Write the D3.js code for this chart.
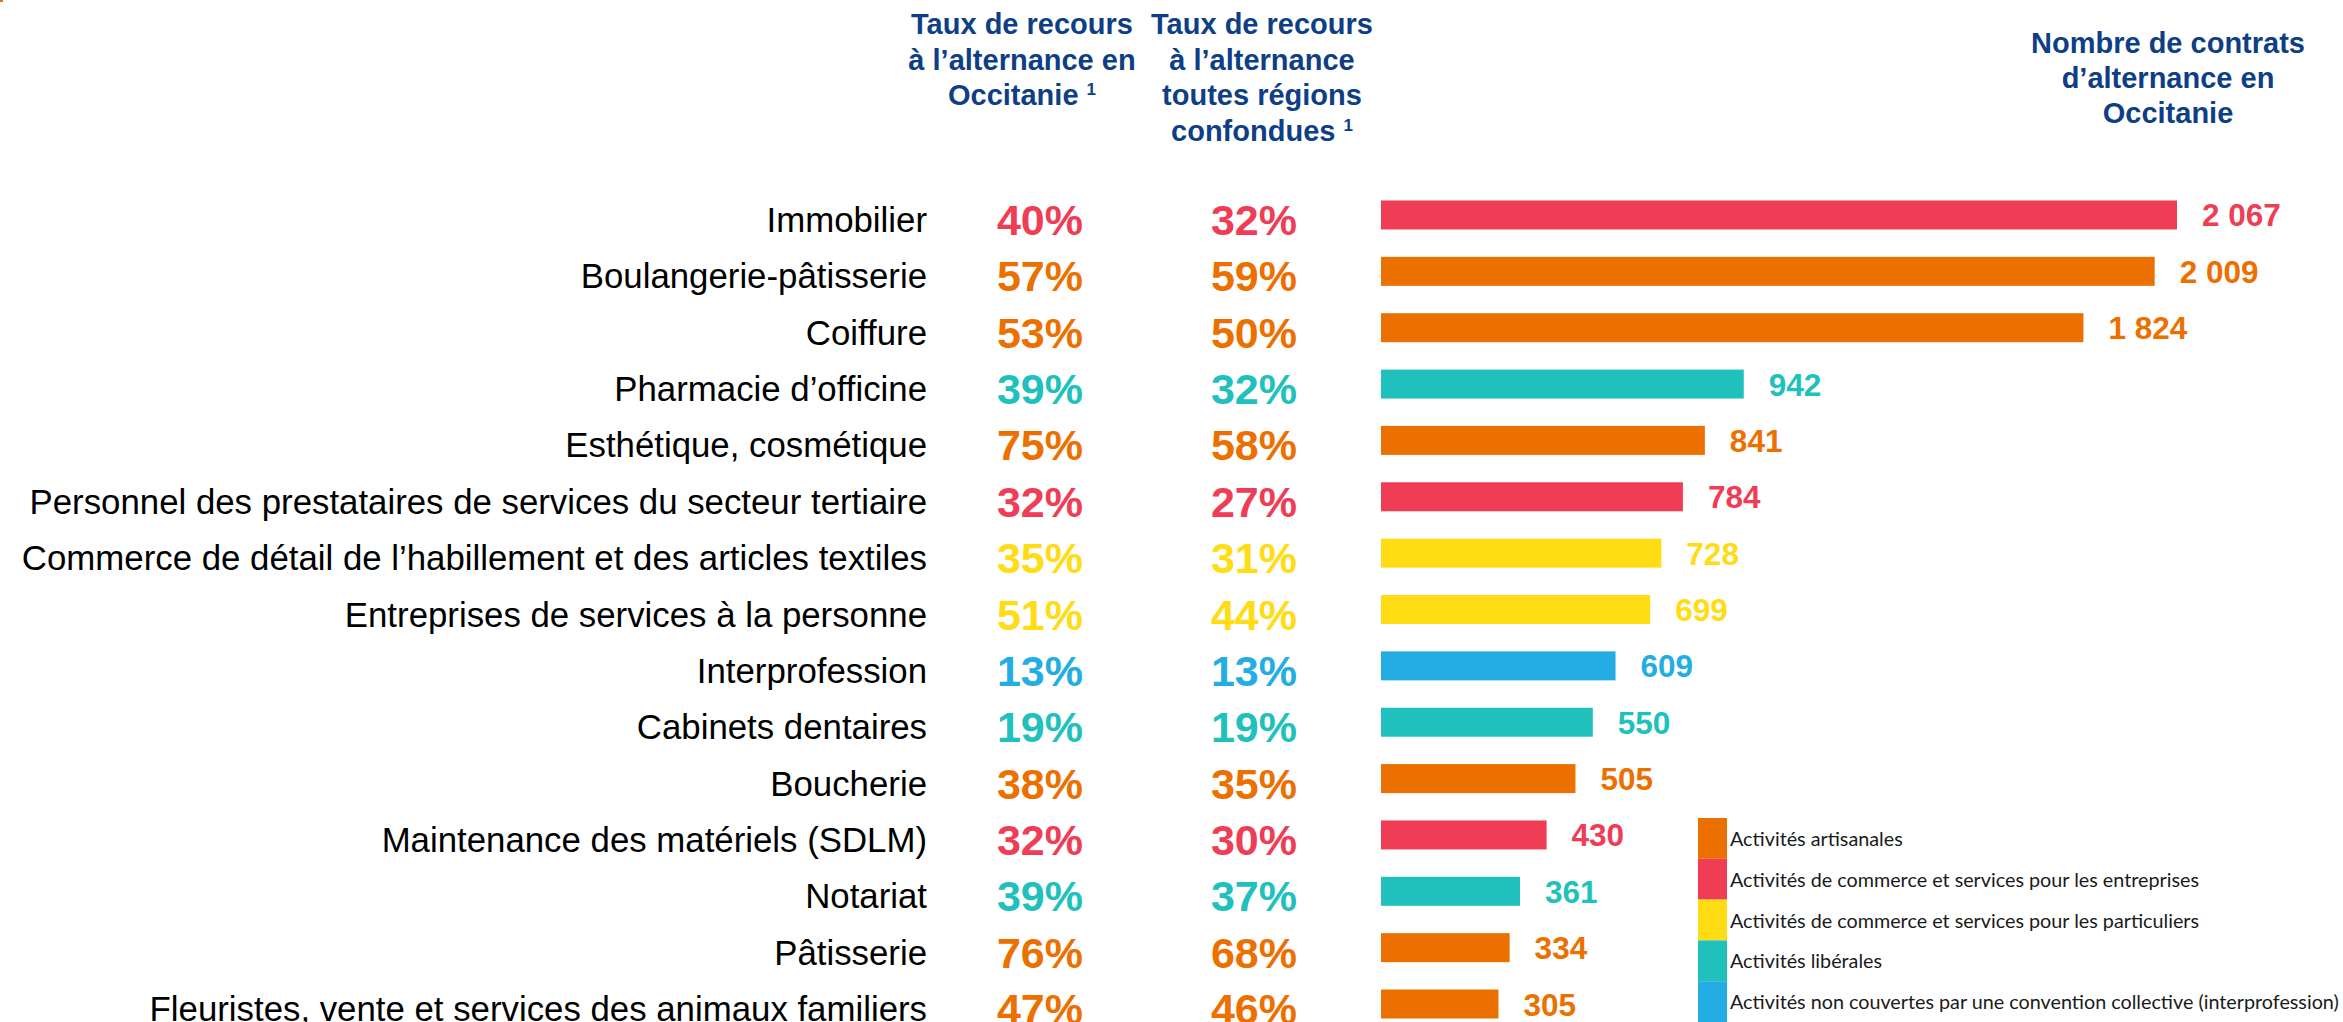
<!DOCTYPE html>
<html>
<head>
<meta charset="utf-8">
<script src="https://cdn.jsdelivr.net/npm/d3@7"></script>
<style>
  html, body { margin: 0; padding: 0; background: #ffffff; }
  svg { display: block; }
</style>
</head>
<body>
<svg id="chart" width="2343" height="1022"></svg>
<script>
// ---------------- DATA ----------------
const categories = [
  "Immobilier",
  "Boulangerie-pâtisserie",
  "Coiffure",
  "Pharmacie d’officine",
  "Esthétique, cosmétique",
  "Personnel des prestataires de services du secteur tertiaire",
  "Commerce de détail de l’habillement et des articles textiles",
  "Entreprises de services à la personne",
  "Interprofession",
  "Cabinets dentaires",
  "Boucherie",
  "Maintenance des matériels (SDLM)",
  "Notariat",
  "Pâtisserie",
  "Fleuristes, vente et services des animaux familiers"
];
// group index of each category (see groupLabels)
const categoryGroup = [1, 0, 0, 3, 0, 1, 2, 2, 4, 3, 0, 1, 3, 0, 0];
const tauxOccitanie = [40, 57, 53, 39, 75, 32, 35, 51, 13, 19, 38, 32, 39, 76, 47];
const tauxToutesRegions = [32, 59, 50, 32, 58, 27, 31, 44, 13, 19, 35, 30, 37, 68, 46];
const nombreContrats = [2067, 2009, 1824, 942, 841, 784, 728, 699, 609, 550, 505, 430, 361, 334, 305];

const groupLabels = [
  "Activités artisanales",
  "Activités de commerce et services pour les entreprises",
  "Activités de commerce et services pour les particuliers",
  "Activités libérales",
  "Activités non couvertes par une convention collective (interprofession)"
];
const groupColors = ["#EC7000", "#EE3D54", "#FFDC14", "#20C1BC", "#24ADE2"];

const header1 = ["Taux de recours", "à l’alternance en", "Occitanie"];
const header2 = ["Taux de recours", "à l’alternance", "toutes régions", "confondues"];
const header3 = ["Nombre de contrats", "d’alternance en", "Occitanie"];
const footnoteMark = "1";

// ---------------- LAYOUT ----------------
const svg = d3.select("#chart");
const navy = "#0E3F86";
const fontArial = "'Liberation Sans', Arial, Helvetica, sans-serif";

// tiny orange mark at top-left corner
svg.append("rect").attr("x", 0).attr("y", 0).attr("width", 3).attr("height", 2).attr("fill", groupColors[0]);

const y = d3.scaleBand().domain(categories).range([186.8, 1032.2]).padding(0);
const step = y.step();
const barH = 29;
const x = d3.scaleLinear().domain([0, d3.max(nombreContrats)]).range([1381, 2177]);

const frLocale = d3.formatLocale({ decimal: ",", thousands: " ", grouping: [3], currency: ["", " €"] });
const fmt = frLocale.format(",d");

const rows = categories.map((c, i) => ({
  cat: c, g: categoryGroup[i], occ: tauxOccitanie[i], all: tauxToutesRegions[i], n: nombreContrats[i]
}));

// Headers
function header(lines, cx, y0, dy, supOnLast) {
  const t = svg.append("g");
  lines.forEach((l, i) => {
    const txt = t.append("text")
      .attr("x", cx).attr("y", y0 + i * dy)
      .attr("text-anchor", "middle")
      .attr("font-family", fontArial)
      .attr("font-weight", "bold")
      .attr("font-size", 29)
      .attr("fill", navy);
    txt.append("tspan").text(l);
    if (supOnLast && i === lines.length - 1) {
      txt.append("tspan").text(" ");
      txt.append("tspan").attr("font-size", 17).attr("dy", -10).text(footnoteMark);
    }
  });
}
header(header1, 1022, 34, 35.5, true);
header(header2, 1262, 34, 35.5, true);
header(header3, 2168, 52.7, 35, false);

// Category labels
svg.append("g").selectAll("text").data(rows).join("text")
  .attr("x", 927)
  .attr("y", d => y(d.cat) + step / 2 + 17)
  .attr("text-anchor", "end")
  .attr("font-family", fontArial)
  .attr("font-size", 34.8)
  .attr("fill", "#000")
  .text(d => d.cat);

// Percent columns
svg.append("g").selectAll("text").data(rows).join("text")
  .attr("x", 1040)
  .attr("y", d => y(d.cat) + step / 2 + 20)
  .attr("text-anchor", "middle")
  .attr("font-family", fontArial)
  .attr("font-weight", "bold")
  .attr("font-size", 43)
  .attr("fill", d => groupColors[d.g])
  .text(d => d.occ + "%");

svg.append("g").selectAll("text").data(rows).join("text")
  .attr("x", 1254)
  .attr("y", d => y(d.cat) + step / 2 + 20)
  .attr("text-anchor", "middle")
  .attr("font-family", fontArial)
  .attr("font-weight", "bold")
  .attr("font-size", 43)
  .attr("fill", d => groupColors[d.g])
  .text(d => d.all + "%");

// Bars
svg.append("g").selectAll("rect").data(rows).join("rect")
  .attr("x", x(0))
  .attr("y", d => y(d.cat) + step / 2 - barH / 2)
  .attr("width", d => x(d.n) - x(0))
  .attr("height", barH)
  .attr("fill", d => groupColors[d.g]);

// Value labels
svg.append("g").selectAll("text").data(rows).join("text")
  .attr("x", d => x(d.n) + 25)
  .attr("y", d => y(d.cat) + step / 2 + 11.5)
  .attr("font-family", fontArial)
  .attr("font-weight", "bold")
  .attr("font-size", 31.5)
  .attr("fill", d => groupColors[d.g])
  .text(d => fmt(d.n));

// Legend
const legY = d3.scaleBand().domain(groupLabels).range([818, 1022]).padding(0);
const leg = svg.append("g");
leg.selectAll("rect").data(groupLabels).join("rect")
  .attr("x", 1698).attr("y", d => legY(d))
  .attr("width", 29).attr("height", legY.bandwidth())
  .attr("fill", (d, i) => groupColors[i]);
const legText = leg.selectAll("text").data(groupLabels).join("text")
  .attr("x", 1730)
  .attr("y", d => legY(d) + legY.bandwidth() / 2 + 7.5)
  .attr("font-family", "Lato, 'Open Sans', sans-serif")
  .attr("font-size", 20)
  .attr("fill", "#1a1a1a")
  .text(d => d);
// fit the legend text width to the reference
let maxW = 0;
legText.each(function () { maxW = Math.max(maxW, this.getComputedTextLength()); });
if (maxW > 0) legText.attr("font-size", 20 * 609 / maxW);
</script>
</body>
</html>
